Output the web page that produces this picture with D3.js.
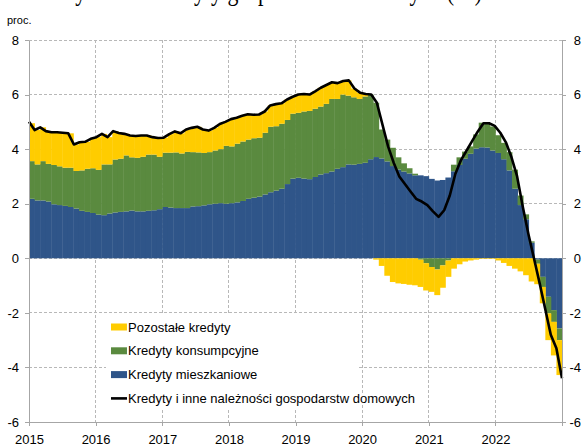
<!DOCTYPE html>
<html>
<head>
<meta charset="utf-8">
<script src="https://cdn.jsdelivr.net/npm/d3@7"></script>
<style>
    body {margin: 0; background: #fff;}
    svg {display: block; font-family: "Liberation Sans", Arial, sans-serif;}
    .grid line {stroke: #b8b8b8; stroke-dasharray: 3,2; shape-rendering: crispEdges;}
    .axis path, .axis line {stroke: #a6a6a6; shape-rendering: crispEdges;}
    .axis text {fill: #000; font-size: 13px; font-family: "Liberation Sans", Arial, sans-serif;}
    .legend text {font-size: 13px; fill: #000;}
</style>
</head>
<body>
<div id="chart"></div>
<script>

var years = [2015, 2016, 2017, 2018, 2019, 2020, 2021, 2022];
var yTicks = [-6, -4, -2, 0, 2, 4, 6, 8];

// kontrybucje, pkt proc. (miesięcznie 2015-01 .. 2022-12)
var mieszkaniowe = [
    2.18, 2.12, 2.12, 2.08, 1.98, 1.95, 1.92, 1.88, 1.82, 1.74, 1.70, 1.66,
    1.60, 1.58, 1.64, 1.68, 1.70, 1.72, 1.75, 1.72, 1.72, 1.74, 1.76, 1.80,
    1.88, 1.86, 1.84, 1.84, 1.84, 1.90, 1.91, 1.94, 1.98, 2.00, 2.02, 2.00,
    2.02, 2.05, 2.10, 2.18, 2.22, 2.26, 2.34, 2.42, 2.48, 2.55, 2.72, 2.92,
    2.95, 2.92, 2.90, 2.98, 3.07, 3.12, 3.18, 3.28, 3.34, 3.44, 3.43, 3.46,
    3.50, 3.63, 3.71, 3.66, 3.55, 3.38, 3.25, 3.18, 3.11, 3.04, 3.04, 3.01,
    2.91, 2.85, 2.87, 2.96, 3.19, 3.42, 3.65, 3.83, 4.02, 4.07, 4.06, 3.95,
    3.86, 3.63, 3.22, 2.55, 1.95, 1.43, 0.57, -0.05, -0.68, -1.41, -1.90, -2.57
];

var konsumpcyjne = [
    1.38, 1.32, 1.44, 1.38, 1.44, 1.42, 1.40, 1.44, 1.38, 1.48, 1.58, 1.64,
    1.64, 1.86, 1.80, 1.94, 1.95, 2.05, 1.95, 1.96, 2.00, 2.06, 2.04, 1.92,
    1.99, 2.01, 2.04, 2.00, 2.06, 1.99, 1.97, 1.92, 1.91, 1.95, 1.98, 2.12,
    2.08, 2.15, 2.18, 2.17, 2.18, 2.16, 2.26, 2.40, 2.36, 2.38, 2.35, 2.38,
    2.38, 2.46, 2.50, 2.50, 2.49, 2.54, 2.66, 2.56, 2.66, 2.52, 2.47, 2.38,
    2.43, 2.37, 1.99, 1.06, 0.80, 0.67, 0.45, 0.30, 0.19, 0.06, -0.05, -0.18,
    -0.32, -0.41, -0.26, -0.08, 0.24, 0.28, 0.26, 0.27, 0.52, 0.90, 0.88, 0.88,
    0.65, 0.60, 0.67, 0.70, 0.35, 0.18, 0.05, -0.15, -0.37, -0.61, -0.43, -0.43
];

var pozostale = [
    1.39, 1.26, 1.24, 1.20, 1.20, 1.25, 1.28, 1.26, 0.97, 1.03, 0.99, 1.08,
    1.20, 1.12, 1.00, 1.04, 0.94, 0.79, 0.80, 0.80, 0.78, 0.70, 0.64, 0.69,
    0.55, 0.68, 0.77, 0.74, 0.82, 0.89, 0.94, 0.86, 0.79, 0.83, 0.92, 0.88,
    1.00, 0.95, 0.94, 0.93, 0.86, 0.85, 0.78, 0.78, 0.81, 0.75, 0.75, 0.62,
    0.67, 0.64, 0.60, 0.64, 0.69, 0.69, 0.61, 0.58, 0.50, 0.56, 0.32, 0.23,
    0.09, 0.00, -0.05, -0.28, -0.64, -0.87, -0.92, -0.94, -0.97, -0.99, -1.00, -1.00,
    -0.91, -0.94, -0.82, -0.60, -0.38, -0.22, -0.12, -0.08, -0.05, -0.02, -0.02, -0.02,
    -0.08, -0.17, -0.28, -0.38, -0.48, -0.62, -0.85, -0.75, -0.60, -0.98, -1.23, -1.28
];

// dynamika r/r, proc.
var ogolem = [
    5.00, 4.70, 4.80, 4.66, 4.62, 4.62, 4.60, 4.58, 4.17, 4.25, 4.27, 4.38,
    4.44, 4.56, 4.44, 4.66, 4.59, 4.56, 4.50, 4.48, 4.50, 4.50, 4.44, 4.41,
    4.42, 4.55, 4.65, 4.58, 4.72, 4.78, 4.82, 4.72, 4.68, 4.78, 4.92, 5.00,
    5.10, 5.15, 5.22, 5.28, 5.26, 5.27, 5.38, 5.60, 5.65, 5.68, 5.82, 5.92,
    6.00, 6.02, 6.00, 6.12, 6.25, 6.35, 6.45, 6.42, 6.50, 6.52, 6.22, 6.07,
    6.02, 6.00, 5.70, 4.90, 4.10, 3.50, 3.00, 2.72, 2.45, 2.18, 2.08, 1.95,
    1.72, 1.52, 1.76, 2.30, 3.10, 3.60, 3.95, 4.30, 4.65, 4.95, 4.95, 4.85,
    4.60, 4.25, 3.70, 3.00, 1.90, 0.90, 0.00, -0.90, -1.85, -2.80, -3.30, -4.40
];

var legendNames = [
    "Pozostałe kredyty",
    "Kredyty konsumpcyjne",
    "Kredyty mieszkaniowe",
    "Kredyty i inne należności gospodarstw domowych"
];

var months = d3.timeMonth.range(new Date(2015, 0, 1), new Date(2023, 0, 1));

var w = 582
    , h = 446
    , margin = {top: 40, right: 20, bottom: 24, left: 29}
    , x0 = margin.left
    , x1 = w - margin.right
    , y0 = h - margin.bottom
    , y1 = margin.top
    , colors = {blue: "#2f5589", green: "#5a8a3f", yellow: "#ffcc00"}
    ;

var svg = d3.select("#chart")
    .append("svg")
    .attr("width", w)
    .attr("height", h);

var x = d3.scaleBand()
    .domain(d3.range(months.length))
    .range([x0, x1])
    .padding(0);

var xTime = d3.scaleTime()
    .domain([months[0], new Date(2023, 0, 1)])
    .range([x0, x1]);

var xLine = d3.scaleLinear()
    .domain([0, months.length - 1])
    .range([x0, x1]);

var y = d3.scaleLinear()
    .domain([-6, 8])
    .range([y0, y1]);

// title, cut off by the top edge as in the source image (only descenders show)
svg.append("text")
    .attr("x", 56)
    .attr("y", 0)
    .attr("textLength", 426)
    .attr("lengthAdjust", "spacingAndGlyphs")
    .style("font-family", "'Liberation Serif', serif")
    .style("font-size", "27px")
    .text("Wykres 1. Kredyty gospodarstw domowych (r/r)");

svg.append("text")
    .attr("x", 7)
    .attr("y", 24)
    .style("font-size", "11px")
    .text("proc.");

// grid
var grid = svg.append("g").attr("class", "grid");

grid.selectAll("line.h")
    .data(yTicks.filter(d => d > -6))
    .enter()
    .append("line")
    .attr("class", "h")
    .attr("x1", x0)
    .attr("x2", x1)
    .attr("y1", d => y(d))
    .attr("y2", d => y(d));

grid.selectAll("line.v")
    .data(years.slice(1))
    .enter()
    .append("line")
    .attr("class", "v")
    .attr("x1", d => xTime(new Date(d, 0, 1)))
    .attr("x2", d => xTime(new Date(d, 0, 1)))
    .attr("y1", y1)
    .attr("y2", y0);

// stacked bars
var rows = months.map(function(m, i) {
    return {blue: mieszkaniowe[i], green: konsumpcyjne[i], yellow: pozostale[i]};
});

var stack = d3.stack()
    .keys(["blue", "green", "yellow"])
    .offset(d3.stackOffsetDiverging);

var bars_g = svg.append("g").attr("class", "bars");

stack(rows).forEach(function(layer) {
    bars_g.append("g")
        .attr("fill", colors[layer.key])
        .selectAll("rect")
        .data(layer)
        .enter()
        .append("rect")
        .attr("x", (d, i) => x(i))
        .attr("width", x.bandwidth() + 0.4)
        .attr("y", d => y(Math.max(d[0], d[1])))
        .attr("height", d => Math.abs(y(d[0]) - y(d[1])));
});

// total line
var line_gen = d3.line()
    .x((d, i) => xLine(i))
    .y(d => y(d))
    .curve(d3.curveLinear);

svg.append("path")
    .attr("d", line_gen(ogolem))
    .attr("fill", "none")
    .attr("stroke", "#000")
    .attr("stroke-width", 2.6)
    .attr("stroke-linejoin", "round");

// axes
var numFormat = d => String(d);

var yAxisL = d3.axisLeft(y)
    .tickValues(yTicks)
    .tickSizeInner(4)
    .tickSizeOuter(0)
    .tickPadding(6)
    .tickFormat(numFormat);

var yAxisR = d3.axisRight(y)
    .tickValues(yTicks)
    .tickSizeInner(4)
    .tickSizeOuter(0)
    .tickPadding(6)
    .tickFormat(numFormat);

var xAxis = d3.axisBottom(xTime)
    .tickValues(years.map(d => new Date(d, 0, 1)).concat([new Date(2023, 0, 1)]))
    .tickSizeInner(4)
    .tickSizeOuter(0)
    .tickPadding(9)
    .tickFormat(d => d.getFullYear() < 2023 ? d3.timeFormat("%Y")(d) : "");

svg.append("g")
    .attr("class", "axis axis--x")
    .attr("transform", "translate(0," + y0 + ")")
    .call(xAxis);

svg.append("g")
    .attr("class", "axis axis--y")
    .attr("transform", "translate(" + x0 + ",0)")
    .call(yAxisL);

svg.append("g")
    .attr("class", "axis axis--y2")
    .attr("transform", "translate(" + x1 + ",0)")
    .call(yAxisR)
    .selectAll("text")
    .attr("text-anchor", "end")
    .attr("x", w - x1 - 1);

// legend
var legend = svg.append("g").attr("class", "legend");

legend.append("rect")
    .attr("x", 106)
    .attr("y", 315)
    .attr("width", 252)
    .attr("height", 94)
    .attr("fill", "#fff");

var legendItems = [
    {name: legendNames[0], color: colors.yellow, type: "rect"},
    {name: legendNames[1], color: colors.green, type: "rect"},
    {name: legendNames[2], color: colors.blue, type: "rect"},
    {name: legendNames[3], color: "#000", type: "line"}
];

legendItems.forEach(function(item, i) {
    var cy = 327 + i * 23.8;
    if (item.type == "rect") {
        legend.append("rect")
            .attr("x", 111)
            .attr("y", cy - 3.5)
            .attr("width", 16)
            .attr("height", 7)
            .attr("fill", item.color);
    } else {
        legend.append("line")
            .attr("x1", 111)
            .attr("x2", 127)
            .attr("y1", cy)
            .attr("y2", cy)
            .attr("stroke", item.color)
            .attr("stroke-width", 2.6);
    }
    legend.append("text")
        .attr("x", 128)
        .attr("y", cy + 4.6)
        .attr("stroke", "#fff")
        .attr("stroke-width", 3)
        .attr("paint-order", "stroke")
        .text(item.name);
});

</script>
</body>
</html>
